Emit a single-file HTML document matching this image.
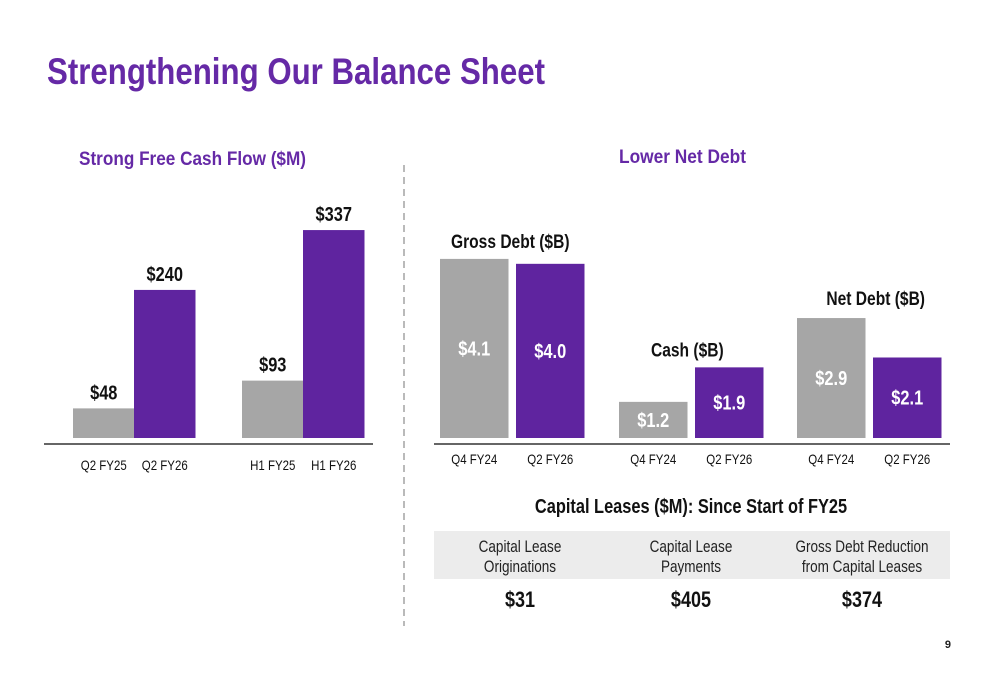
<!DOCTYPE html>
<html><head><meta charset="utf-8"><style>
html,body{margin:0;padding:0;background:#fff}
svg{display:block;font-family:"Liberation Sans",Arial,sans-serif}
</style></head><body>
<svg id="s" width="1000" height="685" viewBox="0 0 1000 685">
<text x="47" y="84" font-size="37" font-weight="bold" fill="#6529a6" textLength="498" lengthAdjust="spacingAndGlyphs">Strengthening Our Balance Sheet</text>
<text x="79" y="165" font-size="19" font-weight="bold" fill="#6529a6" textLength="227" lengthAdjust="spacingAndGlyphs">Strong Free Cash Flow ($M)</text>
<text x="619" y="163" font-size="19" font-weight="bold" fill="#6529a6" textLength="127" lengthAdjust="spacingAndGlyphs">Lower Net Debt</text>
<line x1="404" y1="165" x2="404" y2="626" stroke="#8c8c8c" stroke-width="1.2" stroke-dasharray="7,5"/>
<line x1="44" y1="444" x2="373" y2="444" stroke="#333" stroke-width="1.5"/>
<line x1="434" y1="444" x2="950" y2="444" stroke="#333" stroke-width="1.5"/>
<g id="fcf"></g><g id="debt"></g>
<rect x="434" y="531" width="516" height="48" fill="#ececec"/>
<g id="tbl"></g>
<text x="951" y="648" font-size="11" font-weight="bold" fill="#222" text-anchor="end">9</text>
</svg>
<script>
const fcfCats=["Q2 FY25","Q2 FY26","H1 FY25","H1 FY26"];
const fcfVals=[48,240,93,337];
const fcfLabels=["$48","$240","$93","$337"];
const debtCats=["Q4 FY24","Q2 FY26","Q4 FY24","Q2 FY26","Q4 FY24","Q2 FY26"];
const debtVals=[4.1,4.0,1.2,1.9,2.9,2.1];
const debtLabels=["$4.1","$4.0","$1.2","$1.9","$2.9","$2.1"];
const debtGroups=["Gross Debt ($B)","Cash ($B)","Net Debt ($B)"];
const leaseHead1=["Capital Lease","Capital Lease","Gross Debt Reduction"];
const leaseHead2=["Originations","Payments","from Capital Leases"];
const leaseVals=["$31","$405","$374"];
const NS="http://www.w3.org/2000/svg";
const PURPLE="#5f249f",GRAY="#a6a6a6";
function T(parent,x,y,str,size,weight,fill,anchor,name,sx){
  const t=document.createElementNS(NS,"text");
  t.setAttribute("transform",`translate(${x},${y}) scale(${sx||0.82},1)`);
  t.setAttribute("font-size",size);t.setAttribute("font-weight",weight);
  t.setAttribute("fill",fill);t.setAttribute("text-anchor",anchor||"middle");
  t.textContent=str;
  
  
  parent.appendChild(t);return t;
}
function R(parent,x,y,w,h,fill,name){
  const r=document.createElementNS(NS,"rect");
  r.setAttribute("x",x);r.setAttribute("y",y);r.setAttribute("width",w);r.setAttribute("height",h);r.setAttribute("fill",fill);
  
  
  parent.appendChild(r);
}
const fcfBase=438, fcfK=0.617;
const fcfX=[73,134,242,303], fcfW=61.5;
const g1=document.getElementById("fcf");
fcfVals.forEach((v,i)=>{
  const h=v*fcfK, y=fcfBase-h, cx=fcfX[i]+fcfW/2;
  R(g1,fcfX[i],y,fcfW,h,i%2?PURPLE:GRAY,"fcf-bar-"+i);
  T(g1,cx,y-9,fcfLabels[i],20,"bold","#111","middle","fcf-value-"+i);
  T(g1,cx,470,fcfCats[i],14,"normal","#111","middle","fcf-x-label-"+i);
});
const dBase=438, dMin=0.467, dK=49.3;
const dX=[440,516,619,695,797,873], dW=68.5;
const g2=document.getElementById("debt");
function dy(v){return dBase-(v-dMin)*dK;}
debtVals.forEach((v,i)=>{
  const y=dy(v), cx=dX[i]+dW/2;
  R(g2,dX[i],y,dW,dBase-y,i%2?PURPLE:GRAY,"debt-bar-"+i);
  T(g2,cx,(y+dBase)/2+7,debtLabels[i],20,"bold","#fff","middle","debt-value-"+i);
  T(g2,cx,464,debtCats[i],14,"normal","#111","middle","debt-x-label-"+i);
});
[[451,0,"start"],[651,2,"start"],[925,4,"end"]].forEach((p,k)=>{
  const top=Math.min(dy(debtVals[p[1]]),dy(debtVals[p[1]+1]));
  T(g2,p[0],k==2?top-13:top-11,debtGroups[k],19,"bold","#111",p[2],"debt-group-title-"+k);
});
const g3=document.getElementById("tbl");
T(g3,691,513,"Capital Leases ($M): Since Start of FY25",20,"bold","#111","middle","lease-table-title");
const colX=[520,691,862];
colX.forEach((x,i)=>{
  T(g3,x,552,leaseHead1[i],16.5,"normal","#222","middle","lease-head-"+i);
  T(g3,x,572,leaseHead2[i],16.5,"normal","#222","middle","lease-head2-"+i);
  T(g3,x,607,leaseVals[i],22,"bold","#111","middle","lease-value-"+i);
});
</script>
</body></html>
